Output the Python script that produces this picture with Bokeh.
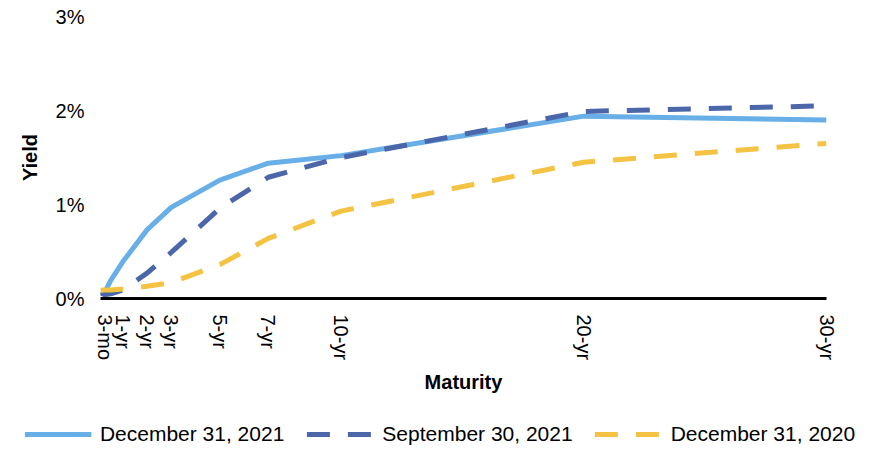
import math
from bokeh.plotting import figure
from bokeh.models import FixedTicker, Range1d, Legend, LegendItem
from bokeh.layouts import column
from bokeh.embed import file_html
from bokeh.resources import INLINE

# maturities in years
maturity = [1/12, 2/12, 0.25, 0.5, 1, 2, 3, 5, 7, 10, 20, 30]
dec_2021 = [0.06, 0.05, 0.06, 0.19, 0.39, 0.73, 0.97, 1.26, 1.44, 1.52, 1.94, 1.90]
sep_2021 = [0.07, 0.05, 0.04, 0.05, 0.09, 0.27, 0.49, 0.96, 1.29, 1.50, 1.99, 2.05]
dec_2020 = [0.08, 0.09, 0.09, 0.09, 0.10, 0.13, 0.17, 0.36, 0.64, 0.93, 1.45, 1.65]

series_names = ["December 31, 2021", "September 30, 2021", "December 31, 2020"]
series_colors = ["#67AFE6", "#4C66AA", "#F5C343"]
series_dash = ["solid", "23 18", "23 18"]

x_ticks = [0.25, 1, 2, 3, 5, 7, 10, 20, 30]
x_tick_labels = ["3-mo", "1-yr", "2-yr", "3-yr", "5-yr", "7-yr", "10-yr", "20-yr", "30-yr"]
y_ticks = [0, 1, 2, 3]
y_tick_labels = ["0%", "1%", "2%", "3%"]

FONT = "Liberation Sans"

p = figure(width=879, height=419, output_backend="svg", toolbar_location=None,
           x_range=Range1d(1/12, 30), y_range=Range1d(0, 3),
           min_border_left=100, min_border_right=53, min_border_top=16,
           min_border_bottom=121)
p.outline_line_color = None
p.xgrid.visible = False
p.ygrid.visible = False

for vals, col, dash in zip([dec_2021, sep_2021, dec_2020], series_colors, series_dash):
    p.line(maturity, vals, line_color=col, line_width=5, line_dash=dash)

xa = p.xaxis[0]
xa.ticker = FixedTicker(ticks=x_ticks)
xa.major_label_overrides = {t: l for t, l in zip(x_ticks, x_tick_labels)}
xa.major_label_orientation = -math.pi / 2
xa.axis_line_color = "black"
xa.axis_line_width = 3
xa.major_tick_line_color = None
xa.minor_tick_line_color = None
xa.major_tick_out = 0
xa.major_label_standoff = 16
xa.major_label_text_font = FONT
xa.major_label_text_font_size = "20px"
xa.major_label_text_color = "black"
xa.axis_label = "Maturity"
xa.axis_label_text_font = FONT
xa.axis_label_text_font_style = "bold"
xa.axis_label_text_font_size = "20px"
xa.axis_label_text_color = "black"
xa.axis_label_standoff = 8

ya = p.yaxis[0]
ya.ticker = FixedTicker(ticks=y_ticks)
ya.major_label_overrides = {t: l for t, l in zip(y_ticks, y_tick_labels)}
ya.axis_line_color = None
ya.major_tick_line_color = None
ya.minor_tick_line_color = None
ya.major_tick_out = 0
ya.major_label_standoff = 16
ya.major_label_text_font = FONT
ya.major_label_text_font_size = "20px"
ya.major_label_text_color = "black"
ya.axis_label = "Yield"
ya.axis_label_text_font = FONT
ya.axis_label_text_font_style = "bold"
ya.axis_label_text_font_size = "20px"
ya.axis_label_text_color = "black"
ya.axis_label_standoff = 12

# legend strip below the chart (its own lines lie outside its visible range)
lp = figure(width=879, height=30, output_backend="svg", toolbar_location=None,
            x_range=Range1d(1/12, 30), y_range=Range1d(10, 11),
            x_axis_location=None, y_axis_location=None,
            min_border_left=0, min_border_right=0, min_border_top=0, min_border_bottom=0)
lp.outline_line_color = None
lp.xgrid.visible = False
lp.ygrid.visible = False

free_frame = False
if "frame_align" in lp.properties():
    lp.frame_align = False
    free_frame = True

items = []
for name, vals, col, dash in zip(series_names, [dec_2021, sep_2021, dec_2020],
                                 series_colors, series_dash):
    r = lp.line(maturity, vals, line_color=col, line_width=5, line_dash=dash)
    items.append(LegendItem(label=name, renderers=[r]))

legend = Legend(items=items, orientation="horizontal", location="center")
legend.label_text_font = FONT
legend.label_text_color = "black"
legend.glyph_height = 20
legend.label_height = 20
legend.padding = 2
legend.margin = 0
legend.border_line_color = None
legend.background_fill_alpha = 0
if free_frame:
    legend.label_text_font_size = "21px"
    legend.glyph_width = 67
    legend.label_standoff = 9
    legend.spacing = 22
else:
    legend.label_text_font_size = "20px"
    legend.glyph_width = 45
    legend.label_standoff = 6
    legend.spacing = 12
lp.add_layout(legend, "center")

layout = column(p, lp, spacing=0)

open("out.html", "w").write(file_html(layout, INLINE))
